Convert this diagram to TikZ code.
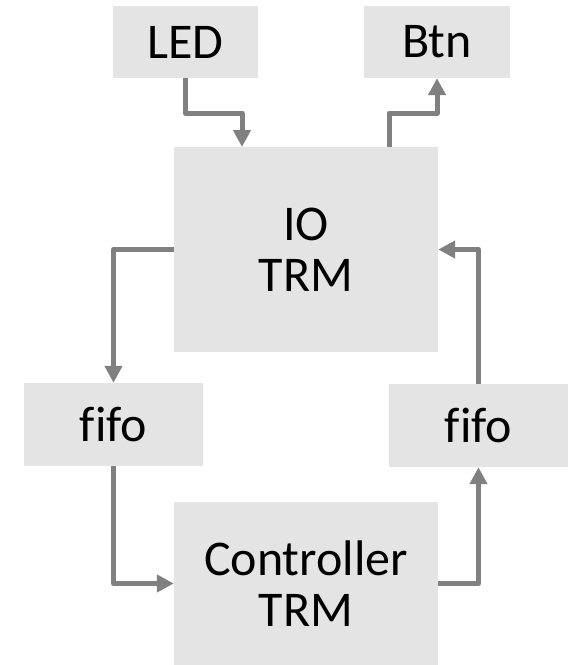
\documentclass[tikz,border=0pt]{standalone}
\usepackage{fontspec}
\setmainfont[Ligatures=NoCommon]{Carlito}
\usetikzlibrary{arrows.meta}

\definecolor{boxgray}{HTML}{E4E4E4}
\definecolor{flowgray}{HTML}{808080}

\tikzset{
    box/.style={fill=boxgray, inner sep=0pt, align=center,
        font=\fontsize{50}{51}\selectfont},
    flow/.style={draw=flowgray, line width=5pt, line join=round,
        -{Triangle[width=17pt,length=17pt]}}
}

\begin{document}
\begin{tikzpicture}[x=1pt, y=-1pt]

        \useasboundingbox (0,0) rectangle (577,665);

        % boxes

        \node[box, minimum width=145pt, minimum height=72pt] (led) at (185.5,42) {LED};
        \node[box, minimum width=146pt, minimum height=72pt] (btn) at (437,42) {Btn};
        \node[box, minimum width=264pt, minimum height=205pt] (io) at (306,249.5) {IO\\TRM};
        \node[box, minimum width=179pt, minimum height=83pt] (fifol) at (113.5,424.5) {fifo}; % left
        \node[box, minimum width=179pt, minimum height=83pt] (fifor) at (478.5,425.5) {fifo}; % right
        \node[box, minimum width=264pt, minimum height=163pt] (ctrl) at (306,583.5) {Controller\\TRM};

        \coordinate (ioin) at (242,147);  % LED enters IO
        \coordinate (ioout) at (389,147); % IO leaves to Btn

        % arrows

        \draw[flow] (led.south) -- ++(0,35) -| (ioin);
        \draw[flow] (ioout) -- ++(0,-34) -| (btn.south);
        \draw[flow] (io.west) -| (fifol.north);
        \draw[flow] (fifor.north) |- (io.east);
        \draw[flow] (fifol.south) |- (ctrl.west);
        \draw[flow] (ctrl.east) -| (fifor.south);

    \end{tikzpicture}
\end{document}
